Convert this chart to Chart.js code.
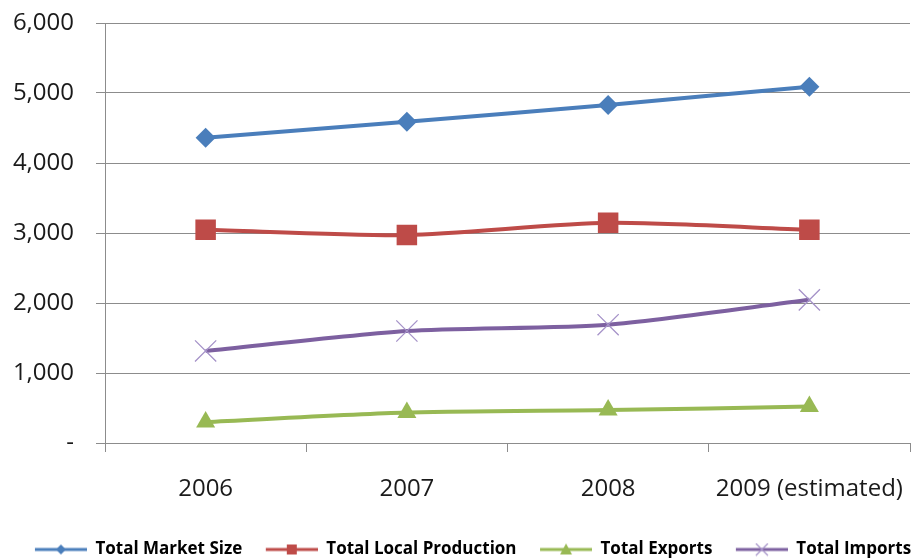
<!DOCTYPE html>
<html>
<head>
<meta charset="utf-8">
<script src="https://cdn.jsdelivr.net/npm/chart.js@4.4.1/dist/chart.umd.min.js"></script>
<style>
  html, body { margin: 0; padding: 0; background: #fff; }
  #wrap { width: 915px; height: 560px; position: relative; }
</style>
</head>
<body>
<div id="wrap"><canvas id="chart"></canvas></div>
<script>
// categories and series
const years = ['2006', '2007', '2008', '2009 (estimated)'];
const marketSize = [4360, 4590, 4830, 5090];
const localProduction = [3045, 2970, 3145, 3045];
const exportsTotal = [300, 435, 470, 520];
const importsTotal = [1315, 1600, 1690, 2045];
const yTicks = [0, 1000, 2000, 3000, 4000, 5000, 6000];

const BLUE = '#4A7EBB';
const RED = '#BE4B48';
const GREEN = '#98B954';
const PURPLE = '#7D60A0';
const PURPLE_LIGHT = '#A592C8';

const SWATCH_GAP = 20;   // blank space before each legend sample
const SWATCH_LINE = 52;

// little legend sample: line with the marker in the middle, Excel style
function legendSwatch(color, kind, markColor) {
    const c = document.createElement('canvas');
    c.width = SWATCH_GAP + SWATCH_LINE;
    c.height = 14;
    const ctx = c.getContext('2d');
    const x0 = SWATCH_GAP;
    const mx = x0 + SWATCH_LINE / 2;
    ctx.strokeStyle = color;
    ctx.lineWidth = 3;
    ctx.beginPath();
    ctx.moveTo(x0, 7);
    ctx.lineTo(x0 + SWATCH_LINE, 7);
    ctx.stroke();
    ctx.fillStyle = markColor || color;
    ctx.beginPath();
    if (kind === 'diamond') {
        ctx.moveTo(mx, 2); ctx.lineTo(mx + 5, 7); ctx.lineTo(mx, 12); ctx.lineTo(mx - 5, 7);
        ctx.fill();
    } else if (kind === 'square') {
        ctx.rect(mx - 5, 2, 10, 10);
        ctx.fill();
    } else if (kind === 'triangle') {
        ctx.moveTo(mx, 1); ctx.lineTo(mx + 6, 12); ctx.lineTo(mx - 6, 12);
        ctx.fill();
    } else {
        ctx.strokeStyle = markColor;
        ctx.lineWidth = 1.2;
        ctx.moveTo(mx - 6, 1); ctx.lineTo(mx + 6, 13);
        ctx.moveTo(mx + 6, 1); ctx.lineTo(mx - 6, 13);
        ctx.stroke();
    }
    return c;
}

const swatches = [
    legendSwatch(BLUE, 'diamond'),
    legendSwatch(RED, 'square'),
    legendSwatch(GREEN, 'triangle'),
    legendSwatch(PURPLE, 'cross', PURPLE_LIGHT)
];

// nudge the legend a bit to the right, like the original
const legendNudge = {
    id: 'legendNudge',
    afterLayout(ch) {
        ch.legend.left += 8;
        ch.legend.right += 8;
    }
};

const baseLine = {
    borderWidth: 4,
    tension: 0.25,
    fill: false,
    pointBorderWidth: 0
};

const ctx = document.getElementById('chart').getContext('2d');
const chart = new Chart(ctx, {
    type: 'line',
    plugins: [legendNudge],
    data: {
        labels: years,
        datasets: [
            Object.assign({}, baseLine, {
                label: 'Total Market Size', data: marketSize,
                borderColor: BLUE, backgroundColor: BLUE,
                pointStyle: 'rectRot', pointRadius: 10, pointBackgroundColor: BLUE
            }),
            Object.assign({}, baseLine, {
                label: 'Total Local Production', data: localProduction,
                borderColor: RED, backgroundColor: RED,
                pointStyle: 'rect', pointRadius: 14.5, pointBackgroundColor: RED
            }),
            Object.assign({}, baseLine, {
                label: 'Total Exports', data: exportsTotal,
                borderColor: GREEN, backgroundColor: GREEN,
                pointStyle: 'triangle', pointRadius: 11, pointBackgroundColor: GREEN
            }),
            Object.assign({}, baseLine, {
                label: 'Total Imports', data: importsTotal,
                borderColor: PURPLE, backgroundColor: PURPLE,
                pointStyle: 'crossRot', pointRadius: 15,
                pointBorderColor: PURPLE_LIGHT, pointBorderWidth: 1.3
            })
        ]
    },
    options: {
        responsive: true,
        maintainAspectRatio: false,
        animation: false,
        layout: { autoPadding: false, padding: { top: 23, right: 5, left: 0, bottom: -8 } },
        plugins: {
            tooltip: { enabled: false },
            legend: {
                position: 'bottom',
                labels: {
                    color: '#000',
                    font: { family: 'Open Sans', size: 17, weight: 'bold' },
                    usePointStyle: true,
                    pointStyleWidth: SWATCH_GAP + SWATCH_LINE,
                    padding: 3.5,
                    generateLabels: (ch) => {
                        const items = Chart.defaults.plugins.legend.labels.generateLabels(ch);
                        items.forEach((it, i) => { it.pointStyle = swatches[i]; });
                        return items;
                    }
                }
            }
        },
        scales: {
            x: {
                offset: true,
                grid: {
                    offset: true,
                    drawOnChartArea: false,
                    drawTicks: true,
                    tickLength: 9,
                    color: '#8c8c8c'
                },
                border: { color: '#8c8c8c', width: 1 },
                ticks: {
                    color: '#1a1a1a',
                    font: { family: 'Open Sans', size: 24 },
                    padding: 22.5,
                    maxRotation: 0
                },
                afterFit: (scale) => {
                    scale.height = 94.5;
                    scale.paddingRight = 0;
                    scale.paddingLeft = 0;
                }
            },
            y: {
                min: 0,
                max: 6000,
                afterBuildTicks: (scale) => { scale.ticks = yTicks.map(v => ({ value: v })); },
                grid: { color: '#8c8c8c', tickLength: 9 },
                border: { color: '#8c8c8c', width: 1 },
                ticks: {
                    color: '#1a1a1a',
                    font: { family: 'Open Sans', size: 24 },
                    padding: 22,
                    callback: (v) => v === 0 ? '-' : v.toLocaleString('en-US')
                },
                afterFit: (scale) => {
                    scale.width = 105;
                    scale.paddingTop = 0;
                    scale.paddingBottom = 0;
                }
            }
        }
    }
});
</script>
</body>
</html>
